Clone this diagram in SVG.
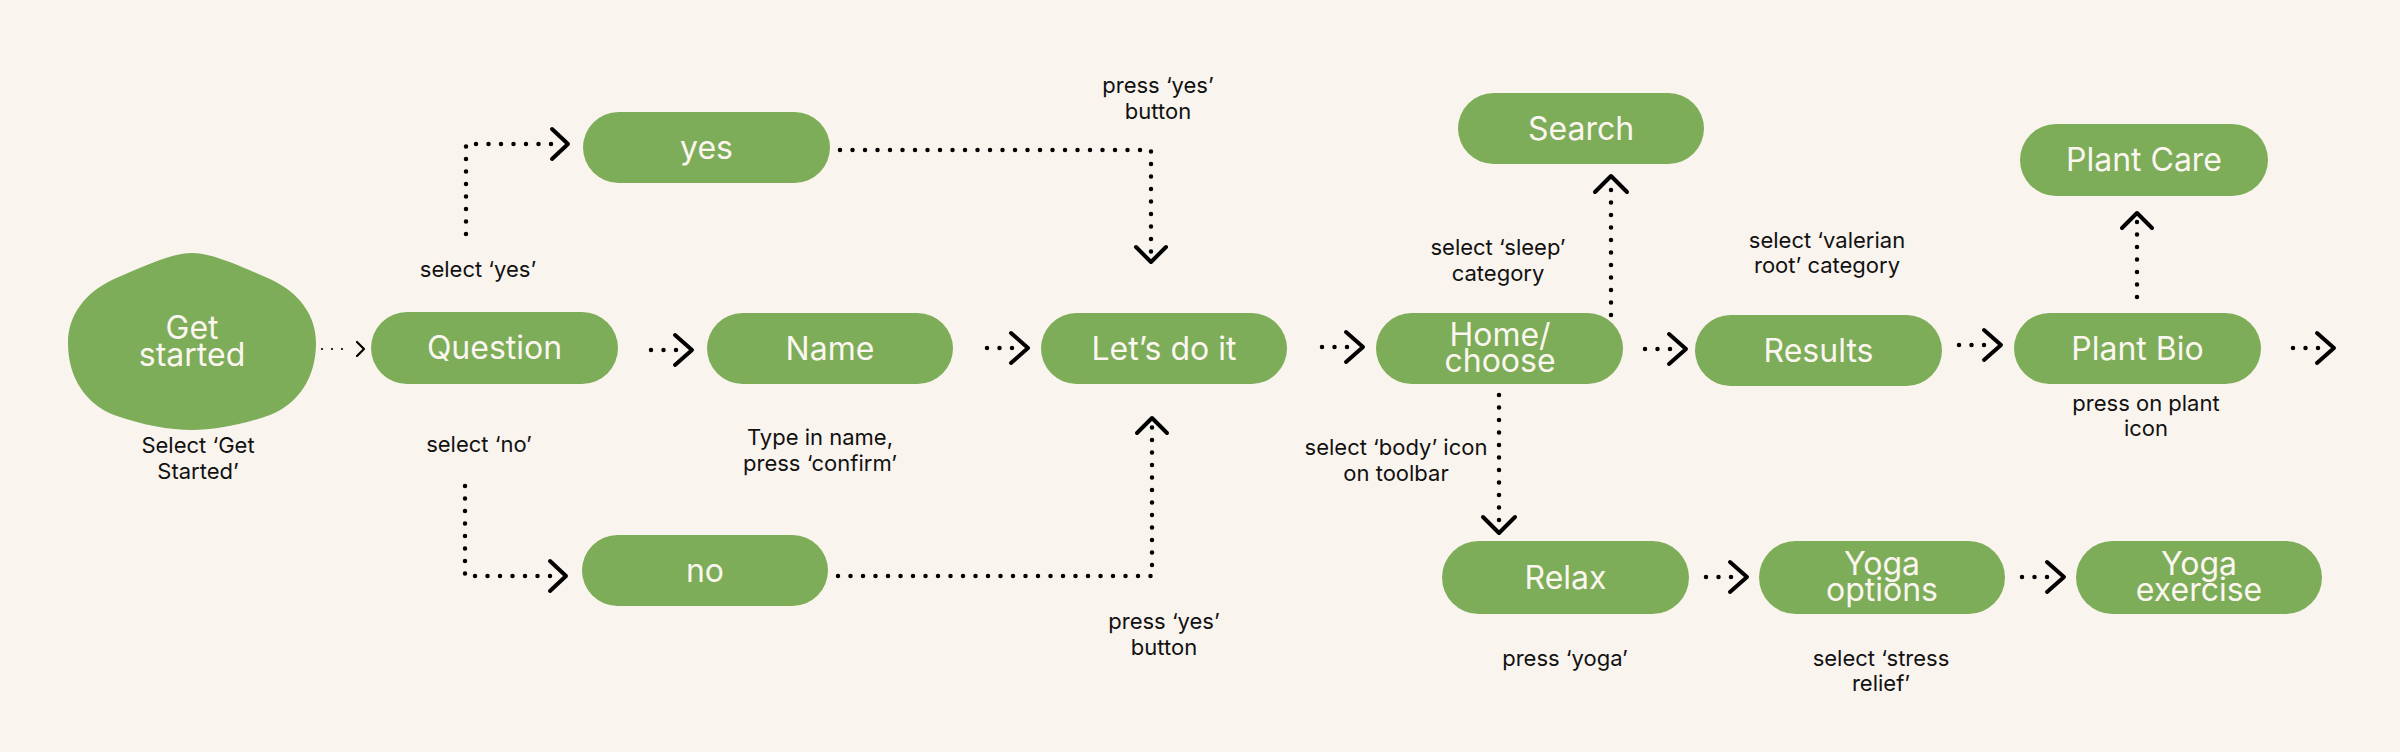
<svg xmlns="http://www.w3.org/2000/svg" width="2400" height="752" viewBox="0 0 2400 752">
<style>
.node{fill:#7DAD58}
.nt{fill:#FBF6F0;font-family:Inter,"Noto Sans",sans-serif;font-size:32px;text-anchor:middle}
.lbl{fill:#111;font-family:Inter,"Noto Sans",sans-serif;font-size:22px;text-anchor:middle}
.dots{fill:none;stroke:#000;stroke-width:4.5;stroke-linecap:round;stroke-dasharray:0 12.5}
.chev{fill:none;stroke:#000;stroke-width:4;stroke-linecap:round;stroke-linejoin:round}
.thin{fill:none;stroke:#000;stroke-width:2.2;stroke-linecap:round;stroke-dasharray:0 10}
.thinchev{fill:none;stroke:#000;stroke-width:2.2;stroke-linecap:round;stroke-linejoin:round}
</style>
<rect width="2400" height="752" fill="#FAF4EE"/>

<g id="connectors">
  <!-- Get started -> Question -->
  <path class="thin" d="M322,349 H352"/>
  <path class="thinchev" d="M357,342 L364,349 L357,356"/>
  <!-- Question -> Name -->
  <path class="dots" d="M651,350 H677"/>
  <path class="chev" d="M675,335 L692,350 L675,365"/>
  <!-- Name -> Let's do it -->
  <path class="dots" d="M987,348 H1013"/>
  <path class="chev" d="M1011,333 L1028,348 L1011,363"/>
  <!-- Let's do it -> Home -->
  <path class="dots" d="M1322,347 H1348"/>
  <path class="chev" d="M1346,332 L1363,347 L1346,362"/>
  <!-- Home -> Results -->
  <path class="dots" d="M1645,349 H1671"/>
  <path class="chev" d="M1669,334 L1686,349 L1669,364"/>
  <!-- Results -> Plant Bio -->
  <path class="dots" d="M1959,345 H1985"/>
  <path class="chev" d="M1984,330 L2001,345 L1984,360"/>
  <!-- Plant Bio -> -->
  <path class="dots" d="M2293,348 H2319"/>
  <path class="chev" d="M2317,333 L2334,348 L2317,363"/>
  <!-- Relax -> Yoga options -->
  <path class="dots" d="M1706,577 H1732"/>
  <path class="chev" d="M1730,562 L1747,577 L1730,592"/>
  <!-- Yoga options -> Yoga exercise -->
  <path class="dots" d="M2022,577 H2048"/>
  <path class="chev" d="M2047,562 L2064,577 L2047,592"/>
  <!-- Question -> yes -->
  <path class="dots" d="M466,234 V144 H560"/>
  <path class="chev" d="M552,129 L568,144 L552,159"/>
  <!-- yes -> Let's do it -->
  <path class="dots" d="M840,150 H1151 V253"/>
  <path class="chev" d="M1136,247 L1151,262 L1166,247"/>
  <!-- Question -> no -->
  <path class="dots" d="M465,486 V576 H558"/>
  <path class="chev" d="M550,561 L566,576 L550,591"/>
  <!-- no -> Let's do it -->
  <path class="dots" d="M838,576 H1152 V427"/>
  <path class="chev" d="M1137,433 L1152,418 L1167,433"/>
  <!-- Home -> Search -->
  <path class="dots" d="M1611,315 V185"/>
  <path class="chev" d="M1595,192 L1611,176 L1627,192"/>
  <!-- Home -> Relax -->
  <path class="dots" d="M1499,395 V525"/>
  <path class="chev" d="M1483,517 L1499,533 L1515,517"/>
  <!-- Plant Bio -> Plant Care -->
  <path class="dots" d="M2137,297 V221"/>
  <path class="chev" d="M2122,228 L2137,213 L2152,228"/>
</g>

<g id="get-started">
  <path class="node" d="M192,253 C212,253 240,266 270,279 C300,293 316,316 316,343 C316,378 298,404 270,415 C242,425 214,430 192,430 C170,430 142,425 114,415 C86,404 68,378 68,343 C68,316 84,293 114,279 C144,266 172,253 192,253 Z"/>
  <text class="nt" x="192" y="339">Get</text>
  <text class="nt" x="192" y="366">started</text>
</g>
<g id="question">
  <rect class="node" x="371" y="312" width="247" height="72" rx="36"/>
  <text class="nt" x="494.5" y="359">Question</text>
</g>
<g id="yes">
  <rect class="node" x="583" y="112" width="247" height="71" rx="35.5"/>
  <text class="nt" x="706.5" y="159">yes</text>
</g>
<g id="no">
  <rect class="node" x="582" y="535" width="246" height="71" rx="35.5"/>
  <text class="nt" x="705" y="582">no</text>
</g>
<g id="name">
  <rect class="node" x="707" y="313" width="246" height="71" rx="35.5"/>
  <text class="nt" x="830" y="360">Name</text>
</g>
<g id="lets-do-it">
  <rect class="node" x="1041" y="313" width="246" height="71" rx="35.5"/>
  <text class="nt" x="1164" y="360">Let’s do it</text>
</g>
<g id="home">
  <rect class="node" x="1376" y="313" width="247" height="71" rx="35.5"/>
  <text class="nt" x="1500" y="346">Home/</text>
  <text class="nt" x="1500" y="372">choose</text>
</g>
<g id="search">
  <rect class="node" x="1458" y="93" width="246" height="71" rx="35.5"/>
  <text class="nt" x="1581" y="140">Search</text>
</g>
<g id="results">
  <rect class="node" x="1695" y="315" width="247" height="71" rx="35.5"/>
  <text class="nt" x="1818.5" y="362">Results</text>
</g>
<g id="plant-bio">
  <rect class="node" x="2014" y="313" width="247" height="71" rx="35.5"/>
  <text class="nt" x="2137.5" y="360">Plant Bio</text>
</g>
<g id="plant-care">
  <rect class="node" x="2020" y="124" width="248" height="72" rx="36"/>
  <text class="nt" x="2144" y="171">Plant Care</text>
</g>
<g id="relax">
  <rect class="node" x="1442" y="541" width="247" height="73" rx="36.5"/>
  <text class="nt" x="1565.5" y="589">Relax</text>
</g>
<g id="yoga-options">
  <rect class="node" x="1759" y="541" width="246" height="73" rx="36.5"/>
  <text class="nt" x="1882" y="575">Yoga</text>
  <text class="nt" x="1882" y="601">options</text>
</g>
<g id="yoga-exercise">
  <rect class="node" x="2076" y="541" width="246" height="73" rx="36.5"/>
  <text class="nt" x="2199" y="575">Yoga</text>
  <text class="nt" x="2199" y="601">exercise</text>
</g>

<g id="labels">
  <text class="lbl" x="198" y="453">Select ‘Get</text>
  <text class="lbl" x="198" y="479">Started’</text>
  <text class="lbl" x="478" y="277">select ‘yes’</text>
  <text class="lbl" x="479" y="452">select ‘no’</text>
  <text class="lbl" x="820" y="445">Type in name,</text>
  <text class="lbl" x="820" y="471">press ‘confirm’</text>
  <text class="lbl" x="1158" y="93">press ‘yes’</text>
  <text class="lbl" x="1158" y="119">button</text>
  <text class="lbl" x="1164" y="629">press ‘yes’</text>
  <text class="lbl" x="1164" y="655">button</text>
  <text class="lbl" x="1498" y="255">select ‘sleep’</text>
  <text class="lbl" x="1498" y="281">category</text>
  <text class="lbl" x="1827" y="248">select ‘valerian</text>
  <text class="lbl" x="1827" y="273">root’ category</text>
  <text class="lbl" x="1396" y="455">select ‘body’ icon</text>
  <text class="lbl" x="1396" y="481">on toolbar</text>
  <text class="lbl" x="2146" y="411">press on plant</text>
  <text class="lbl" x="2146" y="436">icon</text>
  <text class="lbl" x="1565" y="666">press ‘yoga’</text>
  <text class="lbl" x="1881" y="666">select ‘stress</text>
  <text class="lbl" x="1881" y="691">relief’</text>
</g>
</svg>
